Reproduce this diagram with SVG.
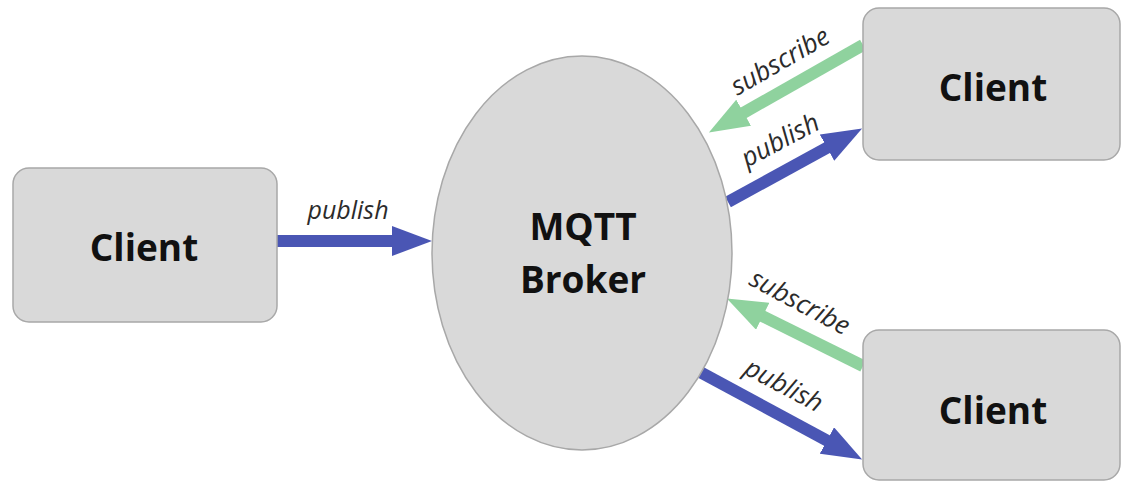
<svg xmlns="http://www.w3.org/2000/svg" width="1122" height="481" viewBox="0 0 1122 481">
  <style>
    .box { fill: #d9d9d9; stroke: #a8a8a8; stroke-width: 1.5; }
    .title { font-family: "Open Sans", "Liberation Sans", sans-serif; font-weight: bold; font-size: 37px; fill: #111; text-anchor: middle; }
    .label { font-family: "Open Sans", "Liberation Sans", sans-serif; font-style: italic; font-size: 26px; fill: #2b2b2b; text-anchor: middle; }
    .pub { stroke: #4a56b4; stroke-width: 12; fill: none; }
    .sub { stroke: #8fd29e; stroke-width: 12; fill: none; }
  </style>
  <defs>
    <marker id="headPub" markerUnits="userSpaceOnUse" viewBox="0 -15 40 30" markerWidth="40" markerHeight="30" refX="1" refY="0" orient="auto">
      <path d="M0,-15 L40,0 L0,15 z" fill="#4a56b4"/>
    </marker>
    <marker id="headSub" markerUnits="userSpaceOnUse" viewBox="0 -15 40 30" markerWidth="40" markerHeight="30" refX="1" refY="0" orient="auto">
      <path d="M0,-15 L40,0 L0,15 z" fill="#8fd29e"/>
    </marker>
  </defs>

  <!-- connectors -->
  <g id="connectors">
    <line class="pub" x1="277" y1="241" x2="393" y2="241" marker-end="url(#headPub)"/>
    <line class="sub" x1="863" y1="45" x2="742.8" y2="113.2" marker-end="url(#headSub)"/>
    <line class="pub" x1="728" y1="202" x2="827.9" y2="147.2" marker-end="url(#headPub)"/>
    <line class="sub" x1="863" y1="366" x2="761.8" y2="315.8" marker-end="url(#headSub)"/>
    <line class="pub" x1="700" y1="372" x2="827.8" y2="441" marker-end="url(#headPub)"/>
    <text class="label" x="348" y="219" style="font-size:25px">publish</text>
    <text class="label" transform="translate(780,61) rotate(-30)" x="0" y="9">subscribe</text>
    <text class="label" transform="translate(780,140) rotate(-28)" x="0" y="9">publish</text>
    <text class="label" transform="translate(800,302) rotate(28)" x="0" y="9">subscribe</text>
    <text class="label" transform="translate(784,385) rotate(28)" x="0" y="9">publish</text>
  </g>

  <g id="broker">
    <ellipse class="box" cx="582" cy="253" rx="150" ry="197"/>
    <text class="title" x="583" y="240">MQTT</text>
    <text class="title" x="583" y="293">Broker</text>
  </g>

  <g id="client-left">
    <rect class="box" x="13" y="168" width="264" height="154" rx="16"/>
    <text class="title" x="144" y="261">Client</text>
  </g>

  <g id="client-top">
    <rect class="box" x="863" y="8" width="257" height="152" rx="16"/>
    <text class="title" x="993" y="101">Client</text>
  </g>

  <g id="client-bottom">
    <rect class="box" x="863" y="330" width="257" height="150" rx="16"/>
    <text class="title" x="993" y="424">Client</text>
  </g>
</svg>
